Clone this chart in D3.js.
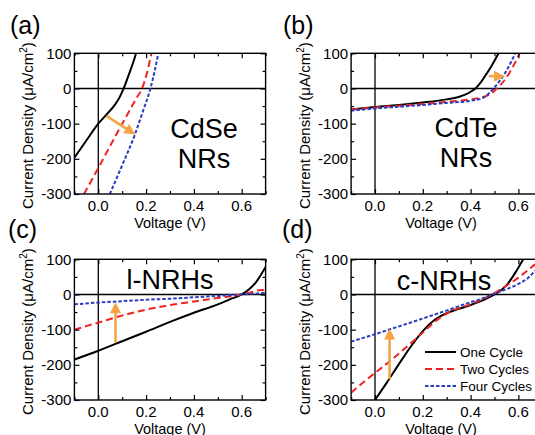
<!DOCTYPE html>
<html><head><meta charset="utf-8">
<script src="https://cdn.jsdelivr.net/npm/d3@7"></script>
<style>
body{margin:0;background:#fff}
svg{display:block}
text{font-family:"Liberation Sans",Arial,Helvetica,sans-serif;fill:#000}
</style>
</head><body>
<svg id="chart" width="535" height="435"></svg>
<script>
// ---------- data ----------
const xTickVals = [0, 0.2, 0.4, 0.6];
const xMinorVals = [-0.1, 0.1, 0.3, 0.5, 0.7];
const yTickVals = [100, 0, -100, -200, -300];
const yMinorVals = [50, -50, -150, -250];
const legendLabels = ["One Cycle", "Two Cycles", "Four Cycles"];
const panelLetters = ["(a)", "(b)", "(c)", "(d)"];
const panelNames = [["CdSe", "NRs"], ["CdTe", "NRs"], ["l-NRHs"], ["c-NRHs"]];
const xLabel = "Voltage (V)";

// (a) CdSe NRs  [voltage V, current density uA/cm2]
const cdseOne  = [[-0.1,-197],[-0.05,-148],[0,-100],[0.03,-77],[0.07,-46],[0.09,-24],[0.106,0],[0.128,40],[0.148,78],[0.158,100]];
const cdseTwo  = [[-0.06,-300],[0,-226],[0.06,-150],[0.12,-76],[0.16,-27],[0.183,0],[0.204,45],[0.222,100]];
const cdseFour = [[0.048,-300],[0.1,-218],[0.153,-131],[0.185,-68],[0.218,0],[0.236,50],[0.251,100]];
// (b) CdTe NRs
const cdteOne  = [[-0.1,-60],[0,-53],[0.1,-47],[0.2,-40],[0.3,-31],[0.35,-24],[0.38,-17],[0.41,-5],[0.42,0],[0.44,15],[0.46,35],[0.49,67],[0.517,100]];
const cdteTwo  = [[-0.1,-60],[0,-54],[0.1,-49],[0.2,-44],[0.3,-38],[0.4,-31],[0.45,-25],[0.48,-17],[0.51,0],[0.54,22],[0.563,45],[0.585,72],[0.605,100]];
const cdteFour = [[-0.1,-63],[0,-57],[0.1,-52],[0.2,-47],[0.3,-41],[0.4,-35],[0.45,-27],[0.475,-15],[0.496,0],[0.52,20],[0.545,45],[0.567,72],[0.587,100]];
// (c) l-NRHs
const lnrhOne  = [[-0.1,-185],[0,-160],[0.1,-133],[0.2,-106],[0.3,-78],[0.4,-52],[0.5,-28],[0.55,-14],[0.6,0],[0.63,14],[0.66,35],[0.7,78]];
const lnrhTwo  = [[-0.1,-100],[0,-80],[0.1,-60],[0.2,-43],[0.3,-30],[0.4,-20],[0.5,-10],[0.6,0],[0.65,8],[0.68,13],[0.7,12]];
const lnrhFour = [[-0.1,-28],[0,-23],[0.1,-19],[0.2,-15],[0.3,-12],[0.4,-8],[0.5,-4],[0.6,0],[0.65,2],[0.7,5]];
// (d) c-NRHs
const cnrhOne  = [[0,-300],[0.05,-250],[0.1,-198],[0.15,-148],[0.2,-104],[0.25,-72],[0.3,-53],[0.35,-41],[0.4,-30],[0.45,-17],[0.5,0],[0.55,26],[0.59,65],[0.62,100]];
const cnrhTwo  = [[-0.1,-279],[-0.042,-246],[0.063,-189],[0.168,-128],[0.273,-66],[0.32,-47],[0.4,-28],[0.47,-7],[0.49,0],[0.55,25],[0.6,48],[0.67,86]];
const cnrhFour = [[-0.1,-134],[0,-113],[0.063,-99],[0.175,-74],[0.315,-42],[0.4,-22],[0.455,-10],[0.49,0],[0.55,15],[0.6,30],[0.64,47],[0.67,68]];

// orange arrows: [start, end] in data units
const arrowA = [[0.034,-78],[0.155,-131]];
const arrowB = [[0.476,35],[0.544,35]];
const arrowC = [[0.072,-137],[0.072,-22]];
const arrowD = [[0.061,-241],[0.061,-97]];

// ---------- layout / style ----------
const styles = [
  {color:"#000000", dash:null,    width:2},
  {color:"#f22222", dash:"7,4",   width:2},
  {color:"#2a3cc0", dash:"3.5,2", width:2}
];
const orange = "#f5a343";
const xDomain = [-0.1, 0.7], yDomain = [-300, 100];

const panels = [
  {box:{l:74.4, r:265.6, t:53.3, b:194}, series:[cdseOne,cdseTwo,cdseFour], arrow:arrowA,
   letterPos:[10,34], namePos:[204,138], titleX:170, legend:false},
  {box:{l:351.1, r:542.3, t:53.3, b:194}, series:[cdteOne,cdteTwo,cdteFour], arrow:arrowB,
   letterPos:[283,34], namePos:[466,137], titleX:441, legend:false},
  {box:{l:74.4, r:265.6, t:259.3, b:400}, series:[lnrhOne,lnrhTwo,lnrhFour], arrow:arrowC,
   letterPos:[8,238], namePos:[170,289], titleX:170, legend:false},
  {box:{l:351.1, r:542.3, t:259.3, b:400}, series:[cnrhOne,cnrhTwo,cnrhFour], arrow:arrowD,
   letterPos:[282,238], namePos:[444,290], titleX:441, legend:true}
];

const svg = d3.select("#chart");
const defs = svg.append("defs");

panels.forEach((p, i) => {
  const B = p.box;
  const x = d3.scaleLinear().domain(xDomain).range([B.l, B.r]);
  const y = d3.scaleLinear().domain(yDomain).range([B.b, B.t]);
  const g = svg.append("g");

  const clipId = "clip" + i;
  defs.append("clipPath").attr("id", clipId)
    .append("rect").attr("x", B.l).attr("y", B.t).attr("width", B.r - B.l).attr("height", B.b - B.t);

  // zero lines
  g.append("line").attr("x1", x(0)).attr("x2", x(0)).attr("y1", B.t).attr("y2", B.b)
    .attr("stroke", "#000").attr("stroke-width", 1.3);
  g.append("line").attr("x1", B.l).attr("x2", B.r).attr("y1", y(0)).attr("y2", y(0))
    .attr("stroke", "#000").attr("stroke-width", 1.3);

  // curves
  const line = d3.line().x(d => x(d[0])).y(d => y(d[1])).curve(d3.curveMonotoneX);
  const cg = g.append("g").attr("clip-path", `url(#${clipId})`);
  p.series.forEach((s, k) => {
    const st = styles[k];
    cg.append("path").datum(s).attr("d", line)
      .attr("fill", "none").attr("stroke", st.color).attr("stroke-width", st.width)
      .attr("stroke-dasharray", st.dash);
  });

  // axes with inward ticks
  const axG = g.append("g");
  const mkX = (ax, len, vals, ypos) => {
    const a = ax(x).tickValues(vals).tickSizeInner(-len).tickSizeOuter(0).tickFormat("");
    axG.append("g").attr("transform", `translate(0,${ypos})`).call(a)
      .call(s => s.select(".domain").remove())
      .call(s => s.selectAll("line").attr("stroke-width", 1.2));
  };
  const mkY = (ax, len, vals, xpos) => {
    const a = ax(y).tickValues(vals).tickSizeInner(-len).tickSizeOuter(0).tickFormat("");
    axG.append("g").attr("transform", `translate(${xpos},0)`).call(a)
      .call(s => s.select(".domain").remove())
      .call(s => s.selectAll("line").attr("stroke-width", 1.2));
  };
  mkX(d3.axisBottom, 5, xTickVals, B.b);
  mkX(d3.axisBottom, 3, xMinorVals, B.b);
  mkX(d3.axisTop, 5, xTickVals, B.t);
  mkX(d3.axisTop, 3, xMinorVals, B.t);
  mkY(d3.axisLeft, 5, yTickVals, B.l);
  mkY(d3.axisLeft, 3, yMinorVals, B.l);
  mkY(d3.axisRight, 5, yTickVals, B.r);
  mkY(d3.axisRight, 3, yMinorVals, B.r);

  // frame
  g.append("rect").attr("x", B.l).attr("y", B.t).attr("width", B.r - B.l).attr("height", B.b - B.t)
    .attr("fill", "none").attr("stroke", "#000").attr("stroke-width", 1.4);

  // tick labels
  g.selectAll(".xl").data(xTickVals).join("text")
    .attr("x", d => x(d)).attr("y", B.b + 16.5).attr("text-anchor", "middle")
    .attr("font-size", 15).text(d => d3.format(".1f")(d));
  g.selectAll(".yl").data(yTickVals).join("text")
    .attr("x", B.l - 3).attr("y", d => y(d)).attr("dy", "0.36em").attr("text-anchor", "end")
    .attr("font-size", 15).text(d => String(d));

  // axis titles
  g.append("text").attr("x", p.titleX)
    .attr("y", B.b + 33.5).attr("text-anchor", "middle").attr("font-size", 14.5).text(xLabel);
  const yl = g.append("text")
    .attr("transform", `translate(${B.l - 41},${(B.t + B.b) / 2 + 2}) rotate(-90)`)
    .attr("text-anchor", "middle").attr("font-size", 15);
  yl.append("tspan").text("Current Density (\u03bcA/cm");
  yl.append("tspan").attr("font-size", 10).attr("dy", -6).text("2");
  yl.append("tspan").attr("dy", 6).text(")");

  // panel letter
  g.append("text").attr("x", p.letterPos[0]).attr("y", p.letterPos[1])
    .attr("font-size", 25).text(panelLetters[i]);

  // sample name
  panelNames[i].forEach((n, k) => {
    g.append("text").attr("x", p.namePos[0]).attr("y", p.namePos[1] + k * 30)
      .attr("text-anchor", "middle").attr("font-size", 27).text(n);
  });

  // arrow
  const [a0, a1] = p.arrow;
  const sx = x(a0[0]), sy = y(a0[1]), ex = x(a1[0]), ey = y(a1[1]);
  const ang = Math.atan2(ey - sy, ex - sx);
  const hl = 11, hw = 5.5;
  const bx = ex - hl * Math.cos(ang), by = ey - hl * Math.sin(ang);
  g.append("line").attr("x1", sx).attr("y1", sy).attr("x2", bx + Math.cos(ang)).attr("y2", by + Math.sin(ang))
    .attr("stroke", orange).attr("stroke-width", 2.5);
  g.append("path")
    .attr("d", `M${ex},${ey}L${bx - hw * Math.sin(ang)},${by + hw * Math.cos(ang)}L${bx + hw * Math.sin(ang)},${by - hw * Math.cos(ang)}Z`)
    .attr("fill", orange);

  // legend
  if (p.legend) {
    const lg = g.append("g");
    legendLabels.forEach((lab, k) => {
      const st = styles[k];
      const ly = 352 + k * 17;
      lg.append("line").attr("x1", 425).attr("x2", 456).attr("y1", ly).attr("y2", ly)
        .attr("stroke", st.color).attr("stroke-width", st.width).attr("stroke-dasharray", st.dash);
      lg.append("text").attr("x", 460).attr("y", ly).attr("dy", "0.36em")
        .attr("font-size", 13.5).text(lab);
    });
  }
});
</script>
</body></html>
